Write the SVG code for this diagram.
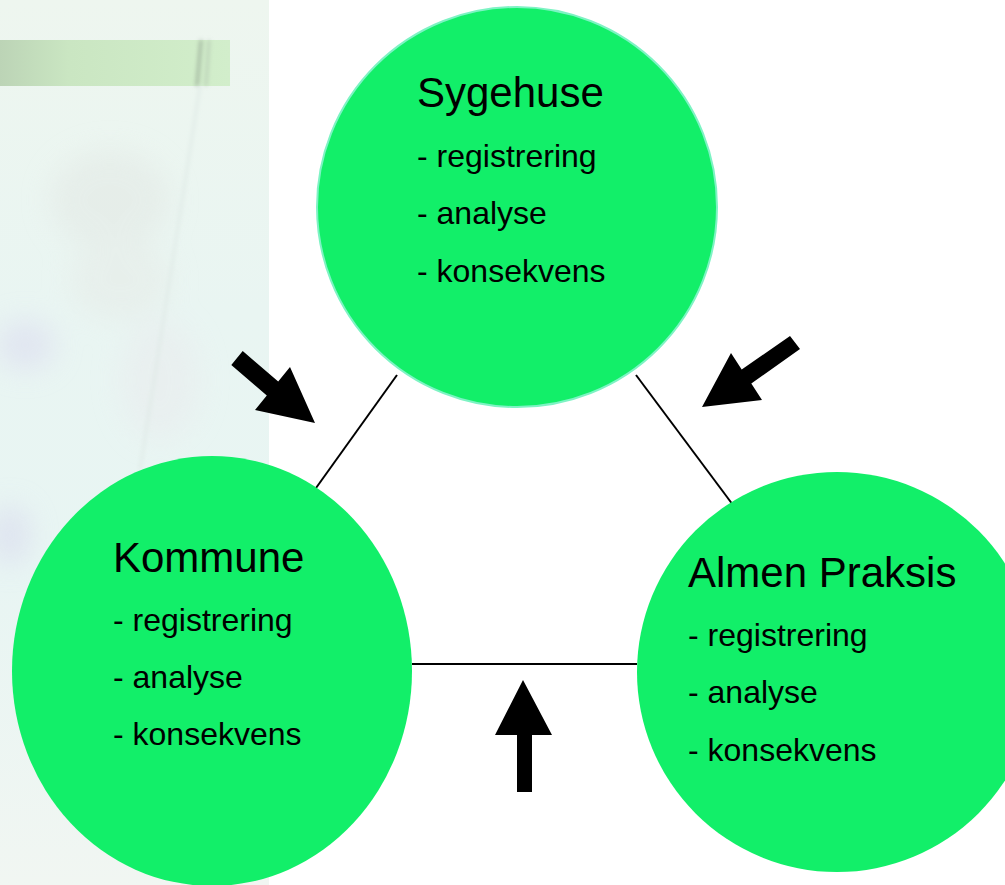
<svg xmlns="http://www.w3.org/2000/svg" width="1005" height="885" viewBox="0 0 1005 885">
<defs>
<style>
.node{fill:#12ef69}
.title{font-family:"Liberation Sans",Arial,sans-serif;font-size:42px;fill:#000}
.item{font-family:"Liberation Sans",Arial,sans-serif;font-size:32px;fill:#000}
.conn{stroke:#000;stroke-width:2;fill:none}
.arrow{fill:#000}
</style>
<linearGradient id="band" x1="0" y1="0" x2="1" y2="0">
<stop offset="0" stop-color="#bcd4b6"/>
<stop offset="0.3" stop-color="#cae6c2"/>
<stop offset="1" stop-color="#d2eecb"/>
</linearGradient>
<linearGradient id="panel" x1="0" y1="0" x2="0" y2="1">
<stop offset="0" stop-color="#eef6ef"/>
<stop offset="0.35" stop-color="#e9f5f2"/>
<stop offset="0.65" stop-color="#e8f5f3"/>
<stop offset="1" stop-color="#f1f6f2"/>
</linearGradient>
<filter id="blur" x="-50%" y="-50%" width="200%" height="200%"><feGaussianBlur stdDeviation="14"/></filter>
<filter id="blur2" x="-50%" y="-50%" width="200%" height="200%"><feGaussianBlur stdDeviation="2"/></filter>
</defs>
<rect width="1005" height="885" fill="#fff"/>
<g id="background">
<rect x="0" y="0" width="269" height="885" fill="url(#panel)"/>
<g filter="url(#blur)" opacity="0.6">
<ellipse cx="110" cy="200" rx="60" ry="50" fill="#e3e9e5"/>
<ellipse cx="25" cy="345" rx="30" ry="25" fill="#dcdcf0"/>
<ellipse cx="120" cy="280" rx="50" ry="40" fill="#e6ece8"/>
<ellipse cx="10" cy="535" rx="20" ry="30" fill="#d8d8ee"/>
<ellipse cx="160" cy="380" rx="40" ry="60" fill="#e9ecee"/>
</g>
<rect x="0" y="40" width="230" height="46" fill="url(#band)"/>
<g filter="url(#blur2)">
<line x1="201" y1="40" x2="197" y2="86" stroke="#8a9a8a" stroke-width="2"/>
<line x1="209" y1="40" x2="206" y2="86" stroke="#a8b8a8" stroke-width="1.5"/>
<line x1="200" y1="86" x2="140" y2="470" stroke="#dde8e4" stroke-width="2"/>
</g>
</g>
<g id="connectors">
<line class="conn" x1="397" y1="375" x2="316" y2="488"/>
<line class="conn" x1="636" y1="375" x2="733" y2="505"/>
<line class="conn" x1="412" y1="664" x2="637" y2="664"/>
<polygon class="arrow" points="242.7,351 278.2,381.5 290,367 315,423 255,410 266.8,395.5 231.3,365"/>
<polygon class="arrow" points="790,336 800,349 751.3,383.5 762,400 702,407 731,353 741.7,369.5"/>
<polygon class="arrow" points="517,792 532,792 532,735 552,735 523,680 495,735 517,735"/>
</g>
<g id="node-sygehuse">
<circle class="node" cx="517" cy="207" r="200" stroke="#7ef3c4" stroke-width="2"/>
<text class="title" x="417" y="107">Sygehuse</text>
<text class="item" x="417" y="167">- registrering</text>
<text class="item" x="417" y="224">- analyse</text>
<text class="item" x="417" y="282">- konsekvens</text>
</g>
<g id="node-kommune">
<ellipse class="node" cx="212" cy="671" rx="200" ry="215"/>
<text class="title" x="113" y="572">Kommune</text>
<text class="item" x="113" y="631">- registrering</text>
<text class="item" x="113" y="688">- analyse</text>
<text class="item" x="113" y="745">- konsekvens</text>
</g>
<g id="node-almen-praksis">
<circle class="node" cx="837" cy="672" r="200"/>
<text class="title" x="688" y="587">Almen Praksis</text>
<text class="item" x="688" y="646">- registrering</text>
<text class="item" x="688" y="703">- analyse</text>
<text class="item" x="688" y="761">- konsekvens</text>
</g>
</svg>
